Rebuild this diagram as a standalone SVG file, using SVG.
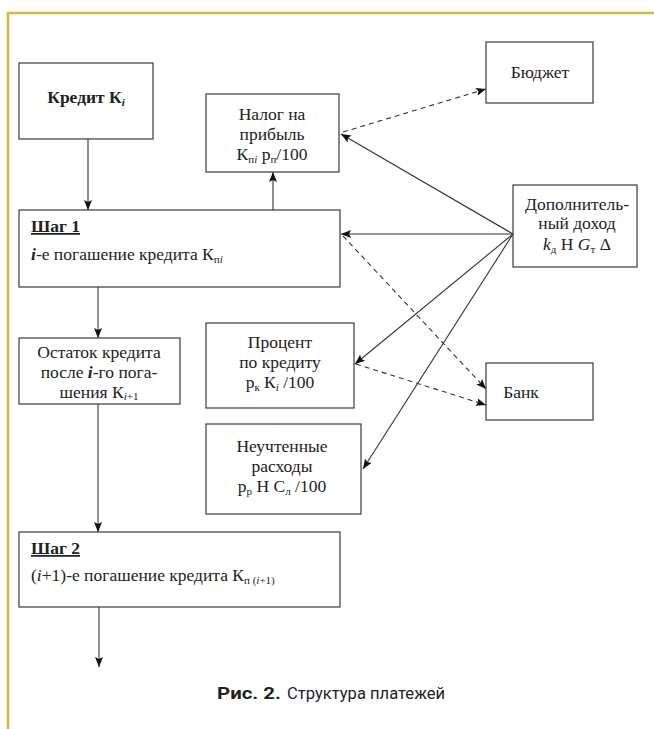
<svg xmlns="http://www.w3.org/2000/svg" width="654" height="729" viewBox="0 0 654 729">
<style>
.box{fill:#fff;stroke:#3a3a3a;stroke-width:1.2}
.t{font-family:"Liberation Serif","Times New Roman",serif;font-size:17.5px;fill:#222}
.c{text-anchor:middle}
.sub{font-size:11px}
.ln{stroke:#333;stroke-width:1.1;fill:none}
.ds{stroke-dasharray:5,4}
.cap{font-family:Roboto,"Liberation Sans",sans-serif;font-size:17px;fill:#222}
</style>
<defs>
<marker id="ah" viewBox="0 0 10 10" refX="10" refY="5" markerWidth="10" markerHeight="10" markerUnits="userSpaceOnUse" orient="auto">
<path d="M0,1 L10,5 L0,9 L2,5 Z" fill="#111"/>
</marker>
</defs>
<rect width="654" height="729" fill="#fff"/>
<path d="M8,729 V13 H654" fill="none" stroke="#d9b83a" stroke-width="2.5"/>

<g id="connectors">
<line class="ln" x1="88" y1="139" x2="88" y2="210" marker-end="url(#ah)"/>
<line class="ln" x1="273" y1="210" x2="273" y2="172" marker-end="url(#ah)"/>
<line class="ln" x1="98" y1="287" x2="98" y2="338" marker-end="url(#ah)"/>
<line class="ln" x1="98" y1="404" x2="98" y2="532" marker-end="url(#ah)"/>
<line class="ln" x1="99" y1="607" x2="99" y2="667" marker-end="url(#ah)"/>
<line class="ln" x1="513" y1="234" x2="341" y2="134" marker-end="url(#ah)"/>
<line class="ln" x1="513" y1="234" x2="341" y2="234" marker-end="url(#ah)"/>
<line class="ln" x1="513" y1="234" x2="355" y2="364" marker-end="url(#ah)"/>
<line class="ln" x1="513" y1="234" x2="363" y2="469" marker-end="url(#ah)"/>
<line class="ln ds" x1="343" y1="132" x2="486" y2="89" marker-end="url(#ah)"/>
<line class="ln ds" x1="343" y1="236" x2="486" y2="389" marker-end="url(#ah)"/>
<line class="ln ds" x1="356" y1="364" x2="486" y2="405" marker-end="url(#ah)"/>
</g>

<g id="credit">
<rect class="box" x="19" y="63" width="134" height="76"/>
<text class="t c" x="86" y="103" font-weight="bold">Кредит К<tspan class="sub" font-style="italic" dy="3">i</tspan></text>
</g>

<g id="nalog">
<rect class="box" x="206" y="94" width="133" height="78"/>
<text class="t c" x="272" y="120">Налог на</text>
<text class="t c" x="272" y="140">прибыль</text>
<text class="t c" x="272" y="160">К<tspan class="sub" dy="3">п</tspan><tspan class="sub" font-style="italic">i</tspan><tspan dy="-3"> р</tspan><tspan class="sub" dy="3">п</tspan><tspan dy="-3">/100</tspan></text>
</g>

<g id="budget">
<rect class="box" x="486" y="42" width="107" height="61"/>
<text class="t c" x="540" y="78">Бюджет</text>
</g>

<g id="step1">
<rect class="box" x="19" y="210" width="321" height="77"/>
<text class="t" x="31" y="232" font-weight="bold" text-decoration="underline">Шаг 1</text>
<text class="t" x="31" y="260"><tspan font-weight="bold" font-style="italic">i</tspan>-е погашение кредита К<tspan class="sub" dy="3">п</tspan><tspan class="sub" font-style="italic">i</tspan></text>
</g>

<g id="dop">
<rect class="box" x="513" y="185" width="124" height="82"/>
<text class="t c" x="577" y="210">Дополнитель-</text>
<text class="t c" x="577" y="229">ный доход</text>
<text class="t c" x="577" y="250"><tspan font-style="italic">k</tspan><tspan class="sub" dy="3">д</tspan><tspan dy="-3"> Н </tspan><tspan font-style="italic">G</tspan><tspan class="sub" dy="3">т</tspan><tspan dy="-3"> Δ</tspan></text>
</g>

<g id="ostatok">
<rect class="box" x="19" y="338" width="161" height="66"/>
<text class="t c" x="99" y="358">Остаток кредита</text>
<text class="t c" x="99" y="378">после <tspan font-weight="bold" font-style="italic">i</tspan>-го пога-</text>
<text class="t c" x="99" y="398">шения К<tspan class="sub" dy="2"><tspan font-style="italic">i</tspan>+1</tspan></text>
</g>

<g id="procent">
<rect class="box" x="206" y="323" width="148" height="85"/>
<text class="t c" x="280" y="348">Процент</text>
<text class="t c" x="280" y="368">по кредиту</text>
<text class="t c" x="280" y="388">р<tspan class="sub" dy="3">к</tspan><tspan dy="-3"> К</tspan><tspan class="sub" font-style="italic" dy="3">i</tspan><tspan dy="-3"> /100</tspan></text>
</g>

<g id="bank">
<rect class="box" x="486" y="363" width="107" height="57"/>
<text class="t c" x="521" y="398">Банк</text>
</g>

<g id="neuchtennye">
<rect class="box" x="206" y="424" width="155" height="90"/>
<text class="t c" x="282" y="452">Неучтенные</text>
<text class="t c" x="282" y="472">расходы</text>
<text class="t c" x="282" y="492">р<tspan class="sub" dy="3">р</tspan><tspan dy="-3"> Н С</tspan><tspan class="sub" dy="3">л</tspan><tspan dy="-3"> /100</tspan></text>
</g>

<g id="step2">
<rect class="box" x="19" y="532" width="321" height="75"/>
<text class="t" x="31" y="554" font-weight="bold" text-decoration="underline">Шаг 2</text>
<text class="t" x="31" y="581">(<tspan font-style="italic">i</tspan>+1)-е погашение кредита К<tspan class="sub" dy="3">п (<tspan font-style="italic">i</tspan>+1)</tspan></text>
</g>

<g id="caption">
<text class="cap" x="217" y="699" font-weight="bold" textLength="64" lengthAdjust="spacingAndGlyphs">Рис. 2.</text>
<text class="cap" x="287" y="699" textLength="158" lengthAdjust="spacingAndGlyphs">Структура платежей</text>
</g>
</svg>
